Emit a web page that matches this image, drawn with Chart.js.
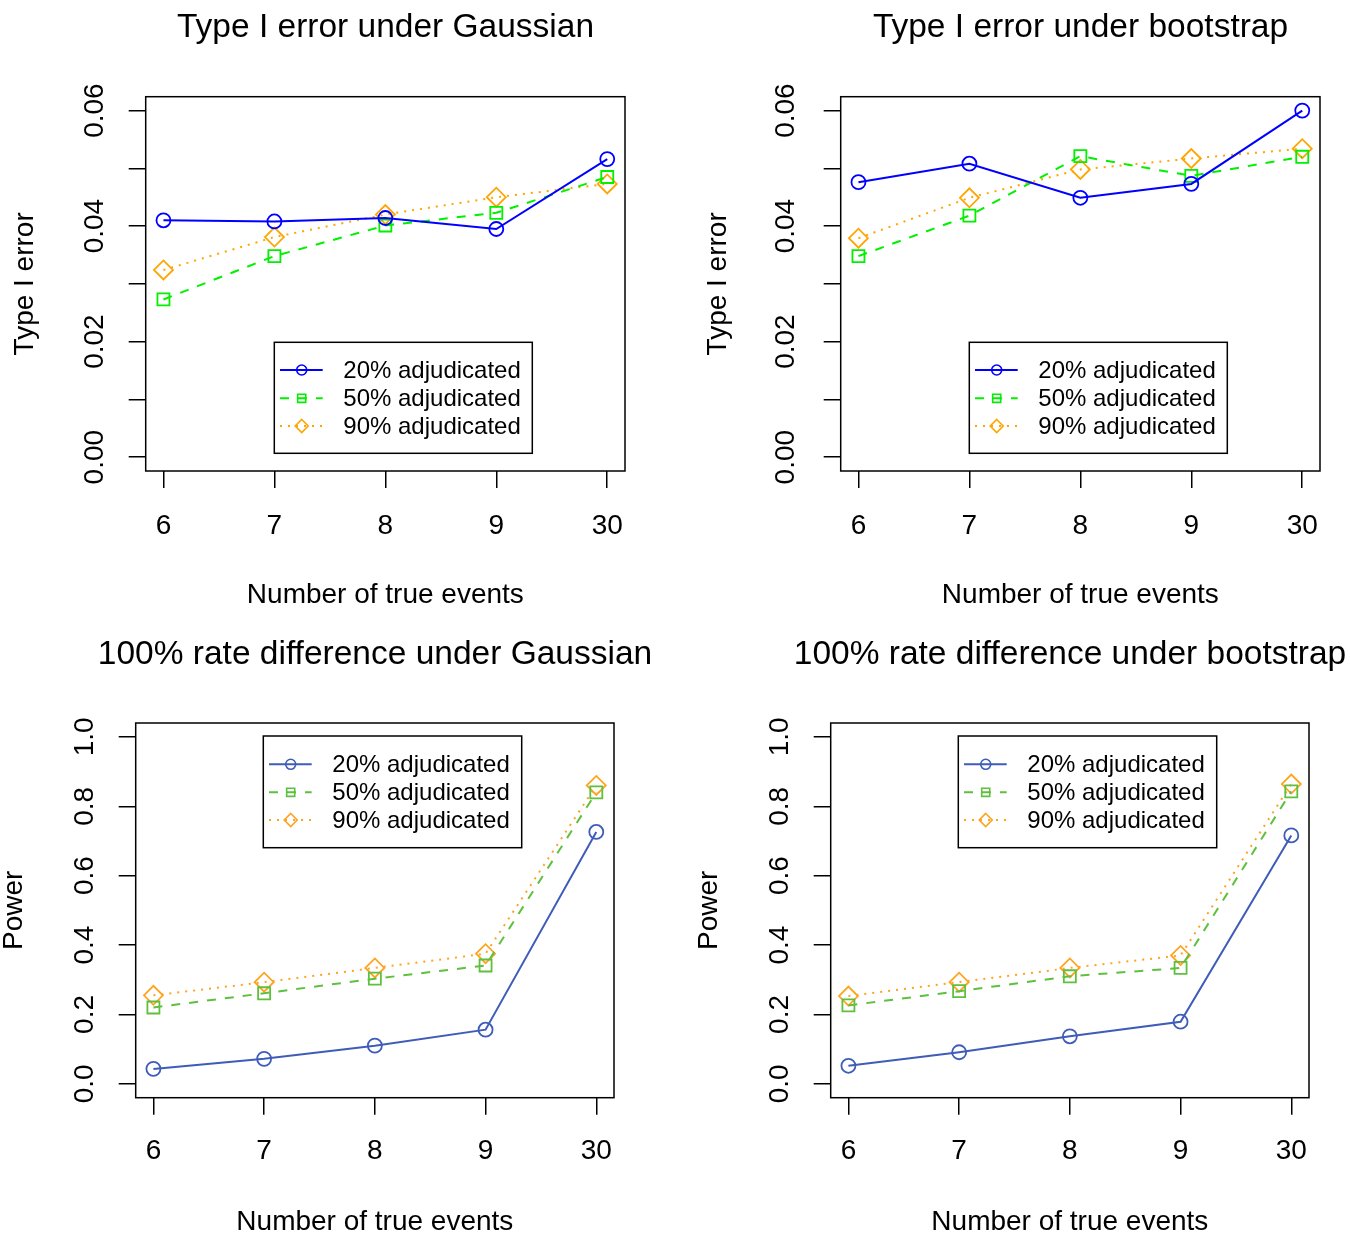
<!DOCTYPE html>
<html><head><meta charset="utf-8">
<script src="https://cdn.jsdelivr.net/npm/chart.js@4.4.1/dist/chart.umd.min.js"></script>
<style>
html,body{margin:0;padding:0;background:#fff;overflow:hidden;}
#wrap{position:relative;width:1350px;height:1234px;background:#fff;overflow:hidden;}
canvas{position:absolute;background:transparent;}
</style></head><body><div id="wrap"></div>
<script>
// ---------------- data ----------------
const categories = ['6', '7', '8', '9', '30'];
const seriesNames = ['20% adjudicated', '50% adjudicated', '90% adjudicated'];

const typeIGauss20 = [0.0410, 0.0408, 0.0414, 0.0395, 0.0516];
const typeIGauss50 = [0.0273, 0.0348, 0.0401, 0.0423, 0.0485];
const typeIGauss90 = [0.0324, 0.0381, 0.0420, 0.0450, 0.0473];

const typeIBoot20 = [0.0476, 0.0508, 0.0449, 0.0473, 0.0600];
const typeIBoot50 = [0.0348, 0.0418, 0.0521, 0.0487, 0.0520];
const typeIBoot90 = [0.0379, 0.0449, 0.0498, 0.0517, 0.0534];

const powerGauss20 = [0.043, 0.072, 0.110, 0.156, 0.726];
const powerGauss50 = [0.220, 0.261, 0.303, 0.341, 0.840];
const powerGauss90 = [0.255, 0.293, 0.334, 0.375, 0.860];

const powerBoot20 = [0.052, 0.091, 0.137, 0.179, 0.716];
const powerBoot50 = [0.226, 0.267, 0.310, 0.334, 0.843];
const powerBoot90 = [0.253, 0.293, 0.334, 0.370, 0.864];

const typeITicks = [0, 0.01, 0.02, 0.03, 0.04, 0.05, 0.06];
const typeITickLabels = ['0.00', '', '0.02', '', '0.04', '', '0.06'];
const powerTicks = [0, 0.2, 0.4, 0.6, 0.8, 1.0];
const powerTickLabels = ['0.0', '0.2', '0.4', '0.6', '0.8', '1.0'];

// ---------------- style ----------------
const FONT = '"Liberation Sans", Arial, Helvetica, sans-serif';
Chart.defaults.font.family = FONT;
Chart.defaults.color = '#000';
const BASE = 28, TITLE = 33.5, LEG = 24, TL = 17;
const H = 617;
const topColors = ['#0000FF', '#00F000', '#FFA500'];
const botColors = ['#3E5CB8', '#5EC03E', '#FFA31F'];
const dashes = [[], [9, 9], [2, 6]];
const styles = ['circle', 'rect', 'rectRot'];
const radii = [7, 8.5, 9.5];
const legRadii = [5, 5.7, 6.5];

const mctx = document.createElement('canvas').getContext('2d');
function textW(t, size) { mctx.font = size + 'px ' + FONT; return mctx.measureText(t).width; }

function drawMarker(ctx, style, x, y, r) {
  ctx.beginPath();
  if (style === 'circle') ctx.arc(x, y, r, 0, Math.PI * 2);
  else if (style === 'rect') { const s = r * Math.SQRT1_2; ctx.rect(x - s, y - s, 2 * s, 2 * s); }
  else { ctx.moveTo(x, y - r); ctx.lineTo(x + r, y); ctx.lineTo(x, y + r); ctx.lineTo(x - r, y); ctx.closePath(); }
  ctx.stroke();
}

const framePlugin = {
  id: 'rframe',
  afterDraw(chart) {
    const { ctx, chartArea: a } = chart;
    ctx.save();
    ctx.strokeStyle = '#000'; ctx.lineWidth = 1.5; ctx.setLineDash([]);
    ctx.strokeRect(a.left, a.top, a.right - a.left, a.bottom - a.top);
    // legend
    const o = chart.options.plugins.rlegend;
    const lx = a.left + o.dx, ly = a.top + o.dy;
    ctx.fillStyle = '#fff';
    ctx.fillRect(lx, ly, o.w, o.h);
    ctx.strokeRect(lx, ly, o.w, o.h);
    chart.data.datasets.forEach((ds, k) => {
      const y = ly + o.rows[k];
      ctx.strokeStyle = ds.borderColor;
      ctx.lineWidth = ds.borderWidth;
      ctx.setLineDash(ds.borderDash);
      ctx.beginPath(); ctx.moveTo(lx + 5.7, y); ctx.lineTo(lx + 48.4, y); ctx.stroke();
      ctx.setLineDash([]);
      ctx.lineWidth = 1.6;
      drawMarker(ctx, styles[k], lx + 27.4, y, legRadii[k]);
      ctx.fillStyle = '#000';
      ctx.font = LEG + 'px ' + FONT;
      ctx.textBaseline = 'middle'; ctx.textAlign = 'left';
      ctx.fillText(ds.label, lx + 69, y + 1);
    });
    ctx.restore();
  }
};

function makePanel(p) {
  const box = p.box;
  const center = (box.l + box.r) / 2;
  const W = Math.ceil(2 * center);
  const cv = document.createElement('canvas');
  cv.width = W; cv.height = H;
  cv.style.left = p.left + 'px'; cv.style.top = p.top + 'px';
  cv.style.width = W + 'px'; cv.style.height = H + 'px';
  document.getElementById('wrap').appendChild(cv);

  const lh = BASE * 1.2, th = TITLE * 1.2;
  const widest = Math.max(...p.yLabels.map(t => textW(t, BASE)));
  const yPad = box.l - TL - p.yLabelX - widest / 2;
  const xPad = p.xLabelY - box.b - TL - lh / 2;
  const xTitlePadB = (H - p.xTitleY) - lh / 2;
  const yTitlePadT = p.yTitleX - lh / 2;
  const titlePadT = p.titleY - th / 2;
  const titlePadB = box.t - titlePadT - th;
  const span = p.yMax - p.yMin, ext = span * 0.04;
  const gridOpts = { display: true, drawOnChartArea: false, drawTicks: true, tickLength: TL, color: '#000', lineWidth: 1.5 };

  new Chart(cv, {
    type: 'line',
    data: {
      datasets: p.series.map((vals, k) => ({
        label: seriesNames[k],
        data: vals.map((v, i) => ({ x: i + 1, y: v })),
        borderColor: p.colors[k],
        borderWidth: p.lw,
        borderDash: dashes[k],
        pointStyle: styles[k],
        pointRadius: radii[k],
        pointBorderWidth: 1.8,
        pointBorderColor: p.colors[k],
        pointBackgroundColor: 'rgba(0,0,0,0)',
        tension: 0, fill: false, clip: false,
        yAxisID: 'y'
      }))
    },
    options: {
      responsive: false, animation: false, devicePixelRatio: 1,
      layout: { padding: 0 },
      plugins: {
        legend: { display: false }, tooltip: { enabled: false },
        title: {
          display: true, text: p.title, fullSize: true, color: '#000',
          font: { size: TITLE, weight: 'normal' },
          padding: { top: titlePadT, bottom: titlePadB }
        },
        rlegend: p.legend
      },
      scales: {
        x: {
          type: 'linear', min: 1 - 0.16, max: 5 + 0.16,
          afterBuildTicks: s => { s.ticks = categories.map((c, i) => ({ value: i + 1 })); },
          afterFit: s => { s.height = H - box.b; },
          ticks: { autoSkip: false, minRotation: 0, maxRotation: 0, padding: xPad, font: { size: BASE }, color: '#000',
                   callback: (v, i) => categories[i] },
          grid: gridOpts, border: { display: false },
          title: { display: true, text: 'Number of true events', color: '#000', font: { size: BASE },
                   padding: { top: 0, bottom: xTitlePadB } }
        },
        y: {
          type: 'linear', position: 'left', min: p.yMin - ext, max: p.yMax + ext,
          afterBuildTicks: s => { s.ticks = p.yTicks.map(v => ({ value: v })); },
          afterFit: s => { s.width = box.l; },
          ticks: { autoSkip: false, minRotation: 90, maxRotation: 90, crossAlign: 'center', padding: yPad,
                   font: { size: BASE }, color: '#000', callback: (v, i) => p.yLabels[i] },
          grid: gridOpts, border: { display: false },
          title: { display: true, text: p.yTitle, color: '#000', font: { size: BASE },
                   padding: { top: yTitlePadT, bottom: 0 } }
        },
        // empty right-hand spacer so the full-width title is centred over the plot box
        yr: {
          type: 'linear', position: 'right', display: true,
          ticks: { display: false }, grid: { display: false }, border: { display: false },
          afterFit: s => { s.width = W - box.r; }
        }
      }
    },
    plugins: [framePlugin]
  });
}

const topLegend = { dx: 128.6, dy: 245.6, w: 258, h: 111, rows: [27.7, 56, 83.7] };
const botLegend = { dx: 127.6, dy: 13, w: 258.4, h: 111.7, rows: [28.3, 56.3, 84] };

makePanel({
  left: 0, top: 0,
  title: 'Type I error under Gaussian', yTitle: 'Type I error',
  box: { l: 145.7, r: 625, t: 96.7, b: 471 }, titleY: 28,
  xLabelY: 526.7, xTitleY: 595, yLabelX: 95, yTitleX: 25,
  yMin: 0, yMax: 0.06, yTicks: typeITicks, yLabels: typeITickLabels,
  series: [typeIGauss20, typeIGauss50, typeIGauss90], colors: topColors, lw: 2, legend: topLegend
});
makePanel({
  left: 675, top: 0,
  title: 'Type I error under bootstrap', yTitle: 'Type I error',
  box: { l: 165.7, r: 645, t: 96.7, b: 471 }, titleY: 28,
  xLabelY: 526.7, xTitleY: 595, yLabelX: 111.7, yTitleX: 43,
  yMin: 0, yMax: 0.06, yTicks: typeITicks, yLabels: typeITickLabels,
  series: [typeIBoot20, typeIBoot50, typeIBoot90], colors: topColors, lw: 2, legend: topLegend
});
makePanel({
  left: 0, top: 617,
  title: '100% rate difference under Gaussian', yTitle: 'Power',
  box: { l: 135.7, r: 614, t: 106, b: 480.7 }, titleY: 38,
  xLabelY: 534, xTitleY: 605, yLabelX: 85, yTitleX: 14,
  yMin: 0, yMax: 1, yTicks: powerTicks, yLabels: powerTickLabels,
  series: [powerGauss20, powerGauss50, powerGauss90], colors: botColors, lw: 2, legend: botLegend
});
makePanel({
  left: 675, top: 617,
  title: '100% rate difference under bootstrap', yTitle: 'Power',
  box: { l: 155.7, r: 634, t: 106, b: 480.7 }, titleY: 38,
  xLabelY: 534, xTitleY: 605, yLabelX: 105, yTitleX: 34,
  yMin: 0, yMax: 1, yTicks: powerTicks, yLabels: powerTickLabels,
  series: [powerBoot20, powerBoot50, powerBoot90], colors: botColors, lw: 2, legend: botLegend
});
</script>
</body></html>
